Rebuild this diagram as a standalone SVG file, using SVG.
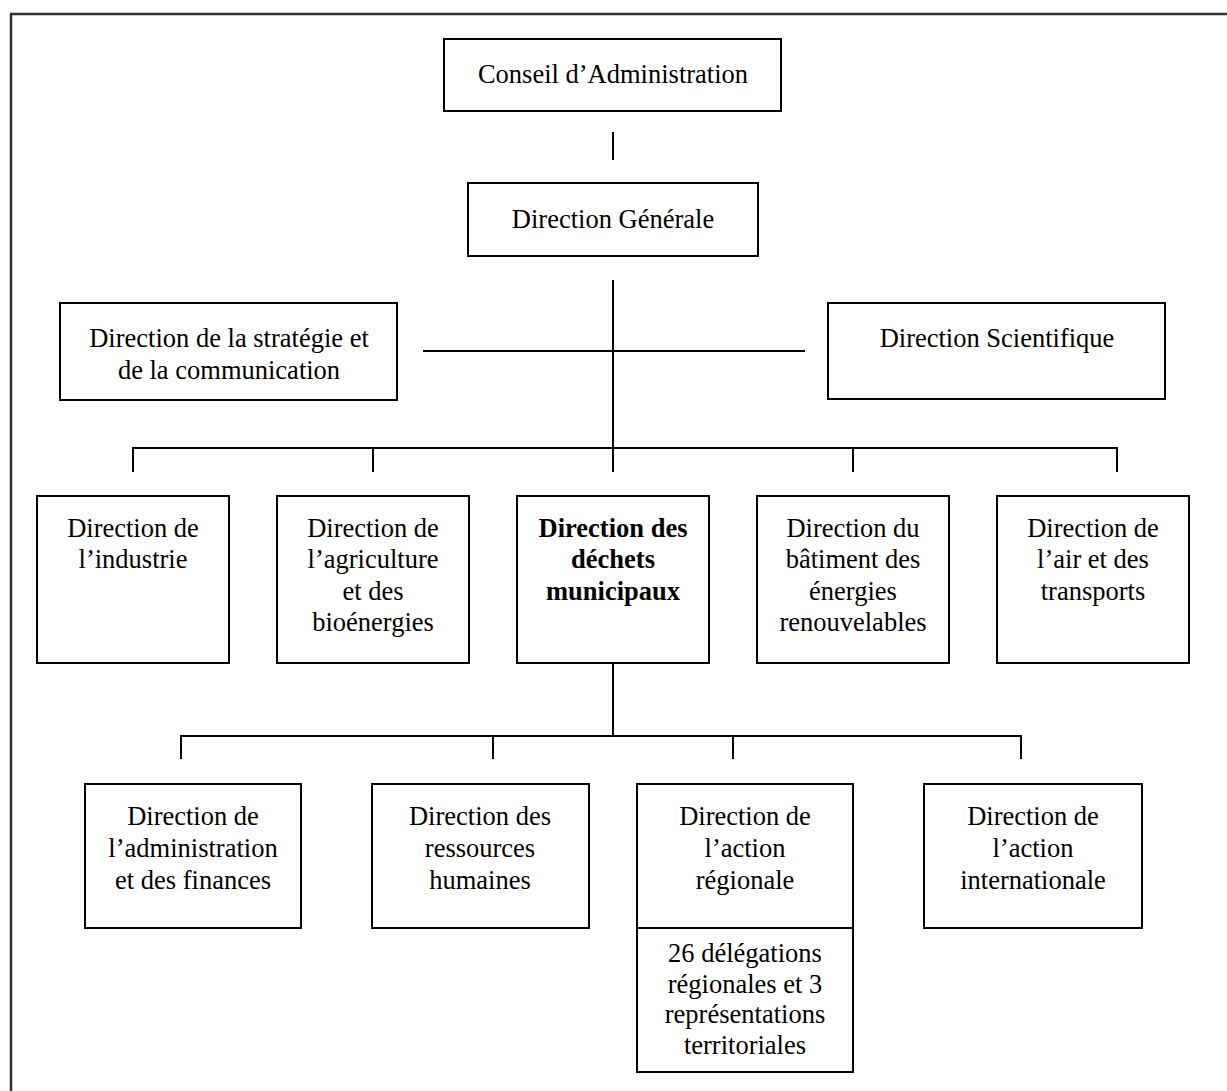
<svg xmlns="http://www.w3.org/2000/svg" width="1227" height="1091" viewBox="0 0 1227 1091">
<style>
.box{fill:#fff;stroke:#000;stroke-width:2}
.ln{fill:none;stroke:#000;stroke-width:2}
.t text{font-size:26.5px;fill:#000;text-anchor:middle}
.b{font-weight:bold}
</style>
<rect width="1227" height="1091" fill="#fff"/>
<path d="M11,1091 V14 H1227" fill="none" stroke="#333" stroke-width="2.5"/>
<g id="connectors">
<path class="ln" d="M613,132 V160"/>
<path class="ln" d="M613,280 V472"/>
<path class="ln" d="M423,351 H805"/>
<path class="ln" d="M133,472 V448 H1117 V472"/>
<path class="ln" d="M373,448 V472 M853,448 V472"/>
<path class="ln" d="M613,663 V736"/>
<path class="ln" d="M181,759 V736 H1021 V759"/>
<path class="ln" d="M493,736 V759 M733,736 V759"/>
</g>
<g class="t" font-family="Liberation Serif, Times New Roman, DejaVu Serif, serif">
<g id="n-conseil"><rect class="box" x="444" y="39" width="337" height="72"/><text x="613" y="83">Conseil d’Administration</text></g>
<g id="n-dg"><rect class="box" x="468" y="183" width="290" height="73"/><text x="613" y="228">Direction Générale</text></g>
<g id="n-strategie"><rect class="box" x="60" y="303" width="337" height="97"/><text x="229" y="347">Direction de la stratégie et</text><text x="229" y="379">de la communication</text></g>
<g id="n-scientifique"><rect class="box" x="828" y="303" width="337" height="96"/><text x="997" y="347">Direction Scientifique</text></g>
<g id="n-industrie"><rect class="box" x="37" y="496" width="192" height="167"/><text x="133" y="537">Direction de</text><text x="133" y="568">l’industrie</text></g>
<g id="n-agriculture"><rect class="box" x="277" y="496" width="192" height="167"/><text x="373" y="537">Direction de</text><text x="373" y="568">l’agriculture</text><text x="373" y="600">et des</text><text x="373" y="631">bioénergies</text></g>
<g id="n-dechets"><rect class="box" x="517" y="496" width="192" height="167"/><text class="b" x="613" y="537">Direction des</text><text class="b" x="613" y="568">déchets</text><text class="b" x="613" y="600">municipaux</text></g>
<g id="n-batiment"><rect class="box" x="757" y="496" width="192" height="167"/><text x="853" y="537">Direction du</text><text x="853" y="568">bâtiment des</text><text x="853" y="600">énergies</text><text x="853" y="631">renouvelables</text></g>
<g id="n-air"><rect class="box" x="997" y="496" width="192" height="167"/><text x="1093" y="537">Direction de</text><text x="1093" y="568">l’air et des</text><text x="1093" y="600">transports</text></g>
<g id="n-admin"><rect class="box" x="85" y="784" width="216" height="144"/><text x="193" y="825">Direction de</text><text x="193" y="857">l’administration</text><text x="193" y="889">et des finances</text></g>
<g id="n-rh"><rect class="box" x="372" y="784" width="217" height="144"/><text x="480" y="825">Direction des</text><text x="480" y="857">ressources</text><text x="480" y="889">humaines</text></g>
<g id="n-regionale"><rect class="box" x="637" y="784" width="216" height="144"/><text x="745" y="825">Direction de</text><text x="745" y="857">l’action</text><text x="745" y="889">régionale</text></g>
<g id="n-delegations"><rect class="box" x="637" y="928" width="216" height="144"/><text x="745" y="962">26 délégations</text><text x="745" y="993">régionales et 3</text><text x="745" y="1023">représentations</text><text x="745" y="1054">territoriales</text></g>
<g id="n-internationale"><rect class="box" x="924" y="784" width="218" height="144"/><text x="1033" y="825">Direction de</text><text x="1033" y="857">l’action</text><text x="1033" y="889">internationale</text></g>
</g>
</svg>
